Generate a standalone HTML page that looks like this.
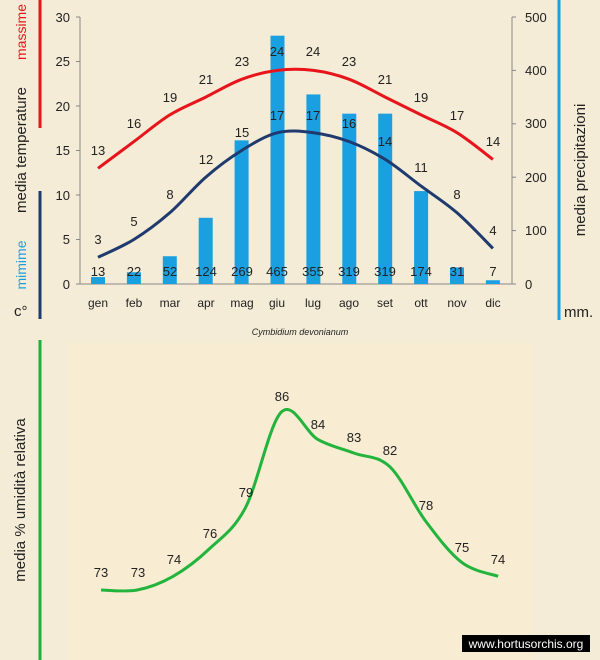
<!DOCTYPE html>
<html><head><meta charset="utf-8"><style>
html,body{margin:0;padding:0;background:#f4ecd6;}
svg{display:block;font-family:"Liberation Sans",sans-serif;}
</style></head><body>
<svg width="600" height="660" viewBox="0 0 600 660" xmlns="http://www.w3.org/2000/svg">
<rect x="0" y="0" width="600" height="660" fill="#f4ecd6"/>
<rect x="68" y="343" width="464" height="317" fill="#f8ecd2"/>
<line x1="40" y1="0" x2="40" y2="128" stroke="#e8141c" stroke-width="3"/>
<line x1="40" y1="191" x2="40" y2="319" stroke="#1f3a6e" stroke-width="3"/>
<line x1="559" y1="0" x2="559" y2="320" stroke="#1aa0e0" stroke-width="3"/>
<line x1="40" y1="340" x2="40" y2="660" stroke="#1eb03c" stroke-width="3"/>
<text transform="translate(26,32) rotate(-90)" text-anchor="middle" font-size="14" fill="#e8141c">massime</text>
<text transform="translate(26,150) rotate(-90)" text-anchor="middle" font-size="15" fill="#222">media  temperature</text>
<text transform="translate(26,265) rotate(-90)" text-anchor="middle" font-size="14" fill="#1aa0e0">mimime</text>
<text x="14" y="316" font-size="15" fill="#222">c°</text>
<text transform="translate(585,170) rotate(-90)" text-anchor="middle" font-size="15" fill="#222">media  precipitazioni</text>
<text x="564" y="317" font-size="15" fill="#222">mm.</text>
<text transform="translate(25,500) rotate(-90)" text-anchor="middle" font-size="15" fill="#222">media  %  umidità relativa</text>
<g stroke="#888" stroke-width="1">
<line x1="80" y1="17" x2="80" y2="284"/>
<line x1="80" y1="284" x2="512" y2="284"/>
<line x1="512" y1="17" x2="512" y2="284"/>
<line x1="76" y1="17" x2="80" y2="17"/><line x1="76" y1="61.5" x2="80" y2="61.5"/><line x1="76" y1="106" x2="80" y2="106"/><line x1="76" y1="150.5" x2="80" y2="150.5"/><line x1="76" y1="195" x2="80" y2="195"/><line x1="76" y1="239.5" x2="80" y2="239.5"/><line x1="76" y1="284" x2="80" y2="284"/>
<line x1="512" y1="17" x2="516" y2="17"/><line x1="512" y1="70.4" x2="516" y2="70.4"/><line x1="512" y1="123.8" x2="516" y2="123.8"/><line x1="512" y1="177.2" x2="516" y2="177.2"/><line x1="512" y1="230.6" x2="516" y2="230.6"/><line x1="512" y1="284" x2="516" y2="284"/>
</g>
<g font-size="13" fill="#222" text-anchor="end">
<text x="70" y="22">30</text><text x="70" y="66">25</text><text x="70" y="111">20</text><text x="70" y="155">15</text><text x="70" y="200">10</text><text x="70" y="244">5</text><text x="70" y="289">0</text>
</g>
<g font-size="13" fill="#222" text-anchor="start">
<text x="525" y="22">500</text><text x="525" y="75">400</text><text x="525" y="128">300</text><text x="525" y="182">200</text><text x="525" y="235">100</text><text x="525" y="289">0</text>
</g>
<g fill="#1aa0e0" id="bars"></g>
<g font-size="12" fill="#222" text-anchor="middle">
<text x="98" y="307">gen</text><text x="134" y="307">feb</text><text x="170" y="307">mar</text><text x="206" y="307">apr</text><text x="242" y="307">mag</text><text x="277" y="307">giu</text><text x="313" y="307">lug</text><text x="349" y="307">ago</text><text x="385" y="307">set</text><text x="421" y="307">ott</text><text x="457" y="307">nov</text><text x="493" y="307">dic</text>
</g>
<path id="pmax" fill="none" stroke="#e8141c" stroke-width="3"/>
<path id="pmin" fill="none" stroke="#1f3a6e" stroke-width="3"/>
<g font-size="13" fill="#222" text-anchor="middle">
<text x="98" y="276">13</text><text x="134" y="276">22</text><text x="170" y="276">52</text><text x="206" y="276">124</text><text x="242" y="276">269</text><text x="277" y="276">465</text><text x="313" y="276">355</text><text x="349" y="276">319</text><text x="385" y="276">319</text><text x="421" y="276">174</text><text x="457" y="276">31</text><text x="493" y="276">7</text>
<text x="98" y="155">13</text><text x="134" y="128">16</text><text x="170" y="102">19</text><text x="206" y="84">21</text><text x="242" y="66">23</text><text x="277" y="56">24</text><text x="313" y="56">24</text><text x="349" y="66">23</text><text x="385" y="84">21</text><text x="421" y="102">19</text><text x="457" y="120">17</text><text x="493" y="146">14</text>
<text x="98" y="244">3</text><text x="134" y="226">5</text><text x="170" y="199">8</text><text x="206" y="164">12</text><text x="242" y="137">15</text><text x="277" y="120">17</text><text x="313" y="120">17</text><text x="349" y="128">16</text><text x="385" y="146">14</text><text x="421" y="172">11</text><text x="457" y="199">8</text><text x="493" y="235">4</text>
</g>
<text x="300" y="335" font-size="9" font-style="italic" fill="#222" text-anchor="middle">Cymbidium  devonianum</text>
<path id="phum" fill="none" stroke="#22b43c" stroke-width="3"/>
<g font-size="13" fill="#222" text-anchor="middle">
<text x="101" y="577">73</text><text x="138" y="577">73</text><text x="174" y="564">74</text><text x="210" y="538">76</text><text x="246" y="497">79</text><text x="282" y="401">86</text><text x="318" y="429">84</text><text x="354" y="442">83</text><text x="390" y="455">82</text><text x="426" y="510">78</text><text x="462" y="552">75</text><text x="498" y="564">74</text>
</g>
<rect x="462" y="635" width="128" height="17" fill="#000"/>
<text x="526" y="648" font-size="12" fill="#fff" text-anchor="middle">www.hortusorchis.org</text>
</svg>
<script>
function cr(pts){var d="M"+pts[0][0]+","+pts[0][1];for(var i=0;i<pts.length-1;i++){var p0=pts[i-1]||pts[i],p1=pts[i],p2=pts[i+1],p3=pts[i+2]||p2;var t=6;d+=" C"+(p1[0]+(p2[0]-p0[0])/t)+","+(p1[1]+(p2[1]-p0[1])/t)+" "+(p2[0]-(p3[0]-p1[0])/t)+","+(p2[1]-(p3[1]-p1[1])/t)+" "+p2[0]+","+p2[1];}return d;}
var xs=[],i;for(i=0;i<12;i++)xs.push(98+i*35.9);
var mx=[13,16,19,21,23,24,24,23,21,19,17,14],mn=[3,5,8,12,15,17,17,16,14,11,8,4],pr=[13,22,52,124,269,465,355,319,319,174,31,7];
var hu=[73,73,74,76,79,86,84,83,82,78,75,74];
document.getElementById("pmax").setAttribute("d",cr(mx.map(function(v,i){return[xs[i],284-v*8.9]})));
document.getElementById("pmin").setAttribute("d",cr(mn.map(function(v,i){return[xs[i],284-v*8.9]})));
document.getElementById("phum").setAttribute("d",cr(hu.map(function(v,i){return[101+i*36.1,590-(v-73)*13.7]})));
var b=document.getElementById("bars"),ns="http://www.w3.org/2000/svg";
pr.forEach(function(v,i){var r=document.createElementNS(ns,"rect");var h=v*0.534;r.setAttribute("x",xs[i]-7);r.setAttribute("y",284-h);r.setAttribute("width",14);r.setAttribute("height",h);b.appendChild(r);});
</script>
</body></html>
